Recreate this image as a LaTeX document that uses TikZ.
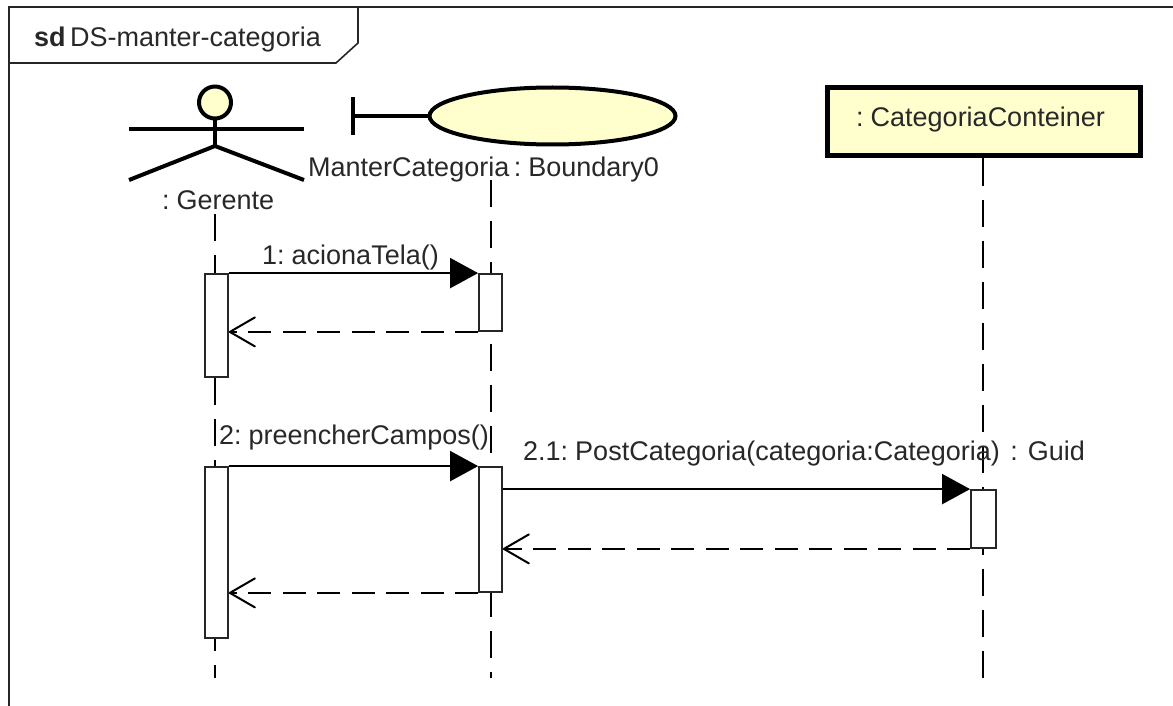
\documentclass[tikz,border=0pt]{standalone}
\usepackage{fontspec}
\setmainfont[WordSpace=0.6]{Liberation Sans}
\usetikzlibrary{arrows.meta,shapes.geometric}
\definecolor{umlfill}{RGB}{255,255,206}
\definecolor{umltext}{RGB}{40,40,40}

\begin{document}
\begin{tikzpicture}[x=1pt,y=-1pt,
  label/.style={anchor=base west,inner sep=0pt,text=umltext,font=\fontsize{27}{30}\selectfont},
  lifeline/.style={line width=2pt,dash pattern=on 27pt off 14pt},
  activation/.style={draw=black!85,line width=1.8pt,fill=white,inner sep=0pt,minimum width=23pt},
  message/.style={line width=2pt,-{Triangle[length=28pt,width=30pt]}},
  reply/.style={line width=2pt,dash pattern=on 23pt off 11.5pt,-{Straight Barb[length=25pt,width=29pt,line width=2pt,round]}},
  figure/.style={line width=4pt}
]
\useasboundingbox (0,0) rectangle (1173,706);
\fill[white] (0,0) rectangle (1173,706);
% frame
\draw[line width=1.6pt,black!85] (9,706) -- (9,7) -- (1173,7);
\draw[line width=1.6pt,black!85] (358,7) -- (358,43) -- (336,63) -- (9,63);
\node[label] (title) at (34,47) {\textbf{sd} DS-manter-categoria};

% actor
\node[draw,figure,fill=umlfill,ellipse,inner sep=0pt,minimum width=32pt,minimum height=32pt] (head) at (215,102.5) {};
\coordinate (hip) at (215,146);
\coordinate (armL) at (129,129);
\coordinate (armR) at (304,129);
\coordinate (legL) at (129,180);
\coordinate (legR) at (304,180);
\draw[figure] (head) -- (hip);
\draw[figure] (armL) -- (armR);
\draw[figure] (legL) -- (hip) -- (legR);
\node[label] (gerente) at (162,209) {: Gerente};

% boundary
\node[draw,figure,fill=umlfill,ellipse,inner sep=0pt,minimum width=246pt,minimum height=57pt] (boundary) at (552.5,116) {};
\coordinate (barTop) at (353,97);
\coordinate (barBottom) at (353,135);
\coordinate (barMid) at (353,116);
\draw[figure] (barTop) -- (barBottom);
\draw[figure] (barMid) -- (boundary);
\node[label] (manter) at (308,176) {ManterCategoria : Boundary0};

% container
\node[draw,line width=5pt,fill=umlfill,inner sep=0pt,minimum width=313pt,minimum height=68pt] (container) at (983.5,122) {};
\node[label] (conteiner) at (856,127) {: CategoriaConteiner};

% lifelines
\coordinate (gerenteTop) at (215,214);
\coordinate (gerenteEnd) at (215,678);
\coordinate (manterTop) at (491,180);
\coordinate (manterEnd) at (491,678);
\coordinate (conteinerEnd) at (983,678);
\draw[lifeline] (gerenteTop) -- (gerenteEnd);
\draw[lifeline] (manterTop) -- (manterEnd);
\draw[lifeline] (container.south -| conteinerEnd) -- (conteinerEnd);

% activations
\node[activation,minimum height=103pt] (ativGerente1) at (216.5,325.5) {};
\node[activation,minimum height=57pt] (ativManter1) at (490.5,302.5) {};
\node[activation,minimum height=171pt] (ativGerente2) at (216.5,552.5) {};
\node[activation,minimum height=125pt] (ativManter2) at (490.5,529.5) {};
\node[activation,minimum width=25pt,minimum height=58pt] (ativConteiner) at (983.5,519) {};

% messages
\draw[message] (ativGerente1.north east) -- (ativManter1.north west);
\node[label] (msg1) at (262,264) {1: acionaTela()};
\draw[reply] (ativManter1.south west) -- (ativManter1.south west -| ativGerente1.east);
\draw[message] (ativGerente2.north east) -- (ativManter2.north west);
\node[label] (msg2) at (219,444) {2: preencherCampos()};
\draw[message] (ativManter2.east |- ativConteiner.north) -- (ativConteiner.north west);
\node[label] (msg21) at (523,460) {2.1: PostCategoria(categoria:Categoria)\kern6pt{} :\kern3pt{} Guid};
\draw[reply] (ativConteiner.south west) -- (ativConteiner.south west -| ativManter2.east);
\draw[reply] (ativManter2.south west) -- (ativManter2.south west -| ativGerente2.east);
\end{tikzpicture}
\end{document}
